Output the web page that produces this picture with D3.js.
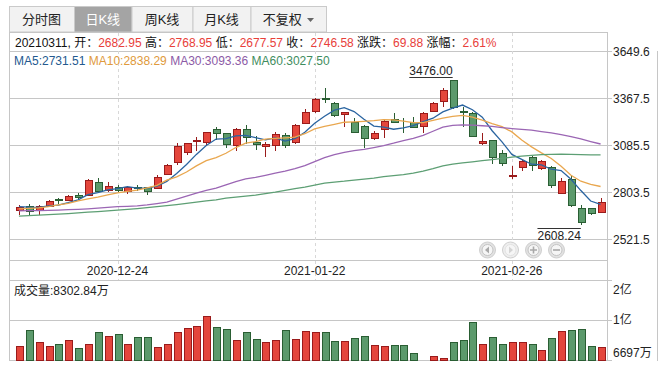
<!DOCTYPE html>
<html>
<head>
<meta charset="utf-8">
<script src="https://cdn.jsdelivr.net/npm/d3@7"></script>
<style>
body { margin: 0; background: #fff; }
svg { display: block; font-family: "Liberation Sans", "Noto Sans CJK SC", sans-serif; }
</style>
</head>
<body>
<div id="chart"></div>
<script>
// trading days shown (60)
const dates = [
  "2020-12-10","2020-12-11","2020-12-14","2020-12-15","2020-12-16","2020-12-17","2020-12-18","2020-12-21","2020-12-22","2020-12-23",
  "2020-12-24","2020-12-25","2020-12-28","2020-12-29","2020-12-30","2020-12-31","2021-01-04","2021-01-05","2021-01-06","2021-01-07",
  "2021-01-08","2021-01-11","2021-01-12","2021-01-13","2021-01-14","2021-01-15","2021-01-18","2021-01-19","2021-01-20","2021-01-21",
  "2021-01-22","2021-01-25","2021-01-26","2021-01-27","2021-01-28","2021-01-29","2021-02-01","2021-02-02","2021-02-03","2021-02-04",
  "2021-02-05","2021-02-08","2021-02-09","2021-02-10","2021-02-18","2021-02-19","2021-02-22","2021-02-23","2021-02-24","2021-02-25",
  "2021-02-26","2021-03-01","2021-03-02","2021-03-03","2021-03-04","2021-03-05","2021-03-08","2021-03-09","2021-03-10","2021-03-11"
]
const open = [
  2695.5, 2723.7, 2695.5, 2721, 2761, 2757.3, 2787, 2789, 2865, 2820,
  2837.7, 2812, 2835, 2833, 2827.5, 2911, 2983, 3047, 3112, 3107,
  3181.5, 3157.5, 3085.5, 3181.5, 3105, 3081, 3085, 3145.5, 3107, 3217.5,
  3289.5, 3367, 3337.5, 3275, 3227.5, 3201, 3131.5, 3181.5, 3245, 3209,
  3223.5, 3203, 3293, 3353, 3475.5, 3289, 3277.5, 3097, 3117.5, 3041.5,
  2904, 2955.5, 3015.5, 2951.5, 2957.5, 2797.5, 2885.5, 2711.5, 2707.5, 2682.95
]
const high = [
  2729.7, 2731.5, 2725, 2759.7, 2770, 2790, 2801, 2886, 2889, 2865,
  2845, 2840, 2850, 2838, 2907, 2975, 3097, 3100, 3137, 3167,
  3195, 3161, 3187, 3205, 3143, 3107, 3167, 3161, 3211, 3301.5,
  3367.5, 3427.5, 3345, 3287, 3247.5, 3207, 3173, 3241.5, 3277.5, 3247.5,
  3257, 3283, 3345, 3431, 3476, 3317, 3283, 3157.5, 3120, 3055.5,
  2961, 2999.5, 3023.5, 2997.5, 2961.5, 2891, 2899.5, 2729.5, 2711.5, 2768.95
]
const low = [
  2669.7, 2667.5, 2669.7, 2718, 2732, 2751, 2755, 2784, 2803.5, 2805,
  2808, 2791.5, 2814, 2787, 2824, 2909, 2965, 3025, 3053, 3083,
  3115, 3067, 3053, 3091, 3057, 3017, 3053, 3071, 3093, 3211.5,
  3281, 3337.5, 3253.5, 3197, 3161, 3067.5, 3117, 3131, 3217.5, 3161,
  3187.5, 3161, 3289, 3313.5, 3301.5, 3197, 3137, 3087, 2974, 2963.5,
  2883, 2929.5, 2929.5, 2935.5, 2831.5, 2791.5, 2715.5, 2608.24, 2667.5, 2677.57
]
const close = [
  2715, 2689.5, 2721, 2753.7, 2757, 2783.7, 2775, 2879.7, 2811, 2839.5,
  2820, 2837.7, 2832, 2811, 2897, 2965, 3079, 3097, 3116, 3163,
  3157.5, 3091.5, 3181.5, 3133.5, 3091, 3091.5, 3151.5, 3085.5, 3205.5, 3285.5,
  3361.5, 3363, 3265.5, 3285, 3167, 3127.5, 3159, 3231, 3227.5, 3205,
  3193.5, 3277.5, 3337.5, 3415.5, 3317, 3285, 3139.5, 3111, 3013.5, 2981.5,
  2909, 2991.5, 2965.5, 2993.5, 2849.5, 2869.5, 2729.5, 2627.5, 2676.7, 2746.58
]
// 成交量, 万
const volume = [
  8485, 10447, 8947, 8485, 8697, 9197, 8197, 8697, 10197, 9697,
  9947, 8697, 9572, 9572, 8322, 8697, 10197, 10697, 10947, 12197,
  10822, 10572, 9197, 10197, 9322, 8947, 9197, 10447, 9322, 10322,
  10197, 10197, 9072, 9072, 9447, 9697, 8572, 8447, 8572, 8572,
  7572, 6697, 7197, 6947, 8947, 9197, 11447, 8697, 9572, 8697,
  8947, 8947, 8697, 7947, 9447, 10322, 10447, 10572, 8447, 8302.84
]
const ma5 = [
  2718, 2714, 2713, 2722, 2727, 2741, 2758, 2790, 2801, 2818,
  2825, 2838, 2828, 2828, 2840, 2869, 2917, 2970, 3031, 3084,
  3123, 3125, 3142, 3145, 3131, 3118, 3130, 3111, 3125, 3164,
  3218, 3260, 3296, 3312, 3288, 3242, 3201, 3194, 3182, 3190,
  3203, 3227, 3248, 3286, 3308, 3327, 3299, 3254, 3173, 3106,
  3031, 3001, 2972, 2968, 2942, 2934, 2882, 2814, 2751, 2731.51
]
const ma10 = [
  2704, 2707, 2710, 2718, 2728, 2737, 2752, 2764, 2775, 2788,
  2800, 2809, 2816, 2830, 2845, 2876, 2896, 2925, 2962, 2993,
  3012, 3038, 3072, 3098, 3108, 3122, 3127, 3130, 3134, 3155,
  3184, 3199, 3211, 3224, 3226, 3229, 3233, 3239, 3238, 3230,
  3222, 3222, 3235, 3249, 3259, 3265, 3255, 3236, 3216, 3198,
  3166, 3117, 3076, 3040, 3006, 2960, 2906, 2870, 2851, 2838.29
]
const ma30 = [
  2692, 2693, 2694, 2695, 2697, 2699, 2701, 2704, 2708, 2713,
  2717, 2719, 2722, 2728, 2736, 2745, 2762, 2780, 2798, 2815,
  2828, 2848, 2868, 2884, 2893, 2905, 2918, 2930, 2945, 2963,
  2988, 3012, 3030, 3043, 3053, 3061, 3072, 3084, 3098, 3114,
  3127, 3145, 3170, 3195, 3205, 3208, 3207, 3203, 3199, 3192,
  3186, 3181, 3176, 3168, 3160, 3150, 3138, 3124, 3108, 3093.36
]
const ma60 = [
  2660, 2663, 2666, 2669, 2672, 2676, 2680, 2684, 2688, 2692,
  2696, 2701, 2706, 2712, 2718, 2724, 2730, 2737, 2745, 2752,
  2758, 2768, 2775, 2780, 2786, 2796, 2804, 2815, 2826, 2835,
  2847, 2858, 2865, 2870, 2877, 2883, 2888, 2897, 2903, 2909,
  2918, 2930, 2945, 2962, 2972, 2980, 2986, 2993, 3000, 3007,
  3014, 3020, 3025, 3029, 3031, 3032, 3031, 3030, 3028, 3027.50
]
const priceTicks = [3649.6, 3367.5, 3085.5, 2803.5, 2521.5]
const dateTicks = ["2020-12-24", "2021-01-22", "2021-02-26"]
const volAxisMax = 16700
const tabLabels = ["分时图", "日K线", "周K线", "月K线", "不复权"]
const maNames = ["MA5", "MA10", "MA30", "MA60"]

const W = 665, H = 371
const left = 9, right = 607, axisEdge = 657
const up = {fill: "#e4463c", stroke: "#9a1b1b"}
const down = {fill: "#5c9a6c", stroke: "#2a5e33"}
const maColors = ["#2a64a0", "#e9a74f", "#9b66b4", "#5d9f74"]
const maTextColors = ["#24598f", "#e09a3c", "#8c5aa6", "#3f8d5e"]
const gridColor = "#c6c6c6"
const red = "#e8403a"

const svg = d3.select("#chart").append("svg")
  .attr("width", W).attr("height", H)
  .attr("viewBox", [0, 0, W, H])

const x = d3.scalePoint().domain(dates).range([14, 605.5]).padding(0.5)
const y = d3.scaleLinear().domain([2521.5, 3649.6]).range([239.3, 51.3])
const volMin = d3.min(volume)
const yv = d3.scaleLinear().domain([volMin, volAxisMax]).range([360.3, 280])

/* ---------- tabs ---------- */
const tabEdges = [9, 74, 131.5, 192.5, 250.5, 326]
const tabs = svg.append("g")
tabLabels.forEach((t, i) => {
  const sel = i === 1
  tabs.append("rect")
    .attr("x", tabEdges[i] + 0.5).attr("y", 6.5)
    .attr("width", tabEdges[i + 1] - tabEdges[i]).attr("height", 25.5)
    .attr("fill", sel ? "#a4a4a4" : "#f2f2f2")
    .attr("stroke", "#cacaca")
  const cx = (tabEdges[i] + tabEdges[i + 1]) / 2 - (i === 4 ? 6 : 0)
  tabs.append("text")
    .attr("x", cx).attr("y", 24)
    .attr("text-anchor", "middle")
    .attr("font-size", 13)
    .attr("fill", sel ? "#fff" : "#222")
    .text(t)
})
// dropdown arrow
tabs.append("path")
  .attr("d", `M${307},${18} l7,0 l-3.5,4 z`)
  .attr("fill", "#666")

/* ---------- frame + grid ---------- */
const frame = svg.append("g").attr("shape-rendering", "crispEdges")
const hline = (yy, x1 = left, x2 = right) => frame.append("line")
  .attr("x1", x1).attr("x2", x2).attr("y1", yy).attr("y2", yy)
  .attr("stroke", gridColor)
hline(32.5)
priceTicks.forEach(p => hline(Math.round(y(p)) + 0.5, left, right + 5))
hline(260.5)
hline(280.5)
hline(Math.round(yv((volMin + volAxisMax) / 2)) + 0.5, left, right + 5)
hline(360.5, left, right + 5)
hline(Math.round(yv(volAxisMax)) + 0.5, right, right + 5)

const vline = (xx, y1, y2) => frame.append("line")
  .attr("x1", xx).attr("x2", xx).attr("y1", y1).attr("y2", y2)
  .attr("stroke", gridColor)
vline(left + 0.5, 32, 361)
vline(right + 0.5, 32, 361)
vline(axisEdge + 0.5, 51, 361)

// dashed date lines
dateTicks.forEach(d => {
  frame.append("line")
    .attr("x1", Math.round(x(d)) + 0.5).attr("x2", Math.round(x(d)) + 0.5)
    .attr("y1", 33).attr("y2", 280)
    .attr("stroke", "#d8d8d8")
    .attr("stroke-dasharray", "3,3")
})

/* ---------- axes labels ---------- */
const axisG = svg.append("g").attr("font-size", 12).attr("fill", "#222")
priceTicks.forEach(p => {
  axisG.append("text")
    .attr("x", right + 6).attr("y", y(p)).attr("dy", "0.35em")
    .text(p.toFixed(1))
})
dateTicks.forEach(d => {
  axisG.append("text")
    .attr("x", x(d)).attr("y", 271).attr("dy", "0.35em")
    .attr("text-anchor", "middle")
    .text(d)
})
const fmtVol = v => v >= 10000 ? Math.round(v / 10000) + "亿" : Math.round(v) + "万"
const volTicks = [volAxisMax, (volMin + volAxisMax) / 2, volMin]
const volOffsets = [10, 0, -7.5]
volTicks.forEach((v, i) => {
  axisG.append("text")
    .attr("x", right + 6).attr("y", yv(v) + volOffsets[i]).attr("dy", "0.35em")
    .text(fmtVol(v))
})

/* ---------- info rows ---------- */
const last = dates.length - 1
const chg = close[last] - close[last - 1]
const info = svg.append("text").attr("x", 15).attr("y", 46.5).attr("font-size", 12).attr("fill", "#111")
const infoParts = [
  [dates[last].replace(/-/g, "") + ", 开：", false], [open[last].toFixed(2), true],
  [" 高：", false], [high[last].toFixed(2), true],
  [" 低：", false], [low[last].toFixed(2), true],
  [" 收：", false], [close[last].toFixed(2), true],
  [" 涨跌：", false], [chg.toFixed(2), true],
  [" 涨幅：", false], [(chg / close[last - 1] * 100).toFixed(2) + "%", true]
]
infoParts.forEach(([t, isVal]) => {
  info.append("tspan").attr("fill", isVal ? red : "#111").text(t)
})

const maSeries = [ma5, ma10, ma30, ma60]
const maRow = svg.append("text").attr("x", 14).attr("y", 64.5).attr("font-size", 12)
maNames.forEach((n, i) => {
  maRow.append("tspan")
    .attr("fill", maTextColors[i])
    .text((i ? " " : "") + n + ":" + maSeries[i][last].toFixed(2))
})

/* ---------- candles ---------- */
const bodyW = 7
const candles = svg.append("g").attr("shape-rendering", "crispEdges")
dates.forEach((d, i) => {
  const isUp = close[i] >= open[i]
  const c = isUp ? up : down
  const cx = Math.round(x(d))
  candles.append("line")
    .attr("x1", cx + 0.5).attr("x2", cx + 0.5)
    .attr("y1", y(high[i])).attr("y2", y(low[i]))
    .attr("stroke", c.stroke)
  const top = Math.round(y(Math.max(open[i], close[i])))
  const bot = Math.round(y(Math.min(open[i], close[i])))
  candles.append("rect")
    .attr("x", cx - bodyW / 2 + 0.5).attr("y", top + 0.5)
    .attr("width", bodyW).attr("height", Math.max(0, bot - top))
    .attr("fill", c.fill).attr("stroke", c.stroke)
})

/* ---------- moving averages ---------- */
const maG = svg.append("g").attr("fill", "none")
maSeries.forEach((s, i) => {
  const line = d3.line().x((v, j) => x(dates[j])).y(v => y(v))
  maG.append("path")
    .attr("d", line(s))
    .attr("stroke", maColors[i])
    .attr("stroke-width", 1.3)
})

/* ---------- high / low marks ---------- */
const hiIdx = d3.maxIndex(high), loIdx = d3.minIndex(low)
const marks = svg.append("g").attr("font-size", 12).attr("fill", "#222")
const hiX = x(dates[hiIdx])
const hiText = marks.append("text").attr("x", hiX).attr("y", 75)
  .attr("text-anchor", "end").text(high[hiIdx].toFixed(2))
const hiW = hiText.node().getComputedTextLength()
marks.append("line").attr("x1", hiX - hiW).attr("x2", hiX)
  .attr("y1", 77.5).attr("y2", 77.5).attr("stroke", "#333")
const loX = x(dates[loIdx])
const loText = marks.append("text").attr("x", loX).attr("y", 239.5)
  .attr("text-anchor", "end").text(low[loIdx].toFixed(2))
const loW = loText.node().getComputedTextLength()
marks.append("line").attr("x1", loX - loW).attr("x2", loX)
  .attr("y1", 228.5).attr("y2", 228.5).attr("stroke", "#333")

/* ---------- nav buttons ---------- */
const nav = svg.append("g")
const navX = [487.5, 510.5, 533.5, 556.5]
navX.forEach((nx, i) => {
  nav.append("circle").attr("cx", nx).attr("cy", 250).attr("r", 8)
    .attr("fill", i === 1 ? "#eeeeee" : "#e2e2e2").attr("stroke", "#cfcfcf")
  nav.append("circle").attr("cx", nx).attr("cy", 250).attr("r", 5.5)
    .attr("fill", "#f6f6f6").attr("stroke", i === 1 ? "#e2e2e2" : "#c4c4c4")
})
const navGlyph = "#a8a8a8"
nav.append("path").attr("d", `M${navX[0] + 1.5},246.5 l0,7 l-4,-3.5 z`).attr("fill", navGlyph)
nav.append("path").attr("d", `M${navX[1] - 1.5},246.5 l0,7 l4,-3.5 z`).attr("fill", "#d4d4d4")
nav.append("path").attr("d", `M${navX[2] - 3.5},250 h7 M${navX[2]},246.5 v7`).attr("stroke", navGlyph).attr("stroke-width", 1.6)
nav.append("path").attr("d", `M${navX[3] - 3.5},250 h7`).attr("stroke", navGlyph).attr("stroke-width", 1.6)

/* ---------- volume ---------- */
svg.append("text").attr("x", 14).attr("y", 294.5).attr("font-size", 12).attr("fill", "#222")
  .text("成交量:" + volume[last].toFixed(2) + "万")
const vols = svg.append("g").attr("shape-rendering", "crispEdges")
dates.forEach((d, i) => {
  const c = close[i] >= open[i] ? up : down
  const cx = Math.round(x(d))
  const top = Math.round(yv(volume[i]))
  vols.append("rect")
    .attr("x", cx - bodyW / 2 + 0.5).attr("y", top + 0.5)
    .attr("width", bodyW).attr("height", Math.max(0, 360 - top))
    .attr("fill", c.fill).attr("stroke", c.stroke)
})
</script>
</body>
</html>
